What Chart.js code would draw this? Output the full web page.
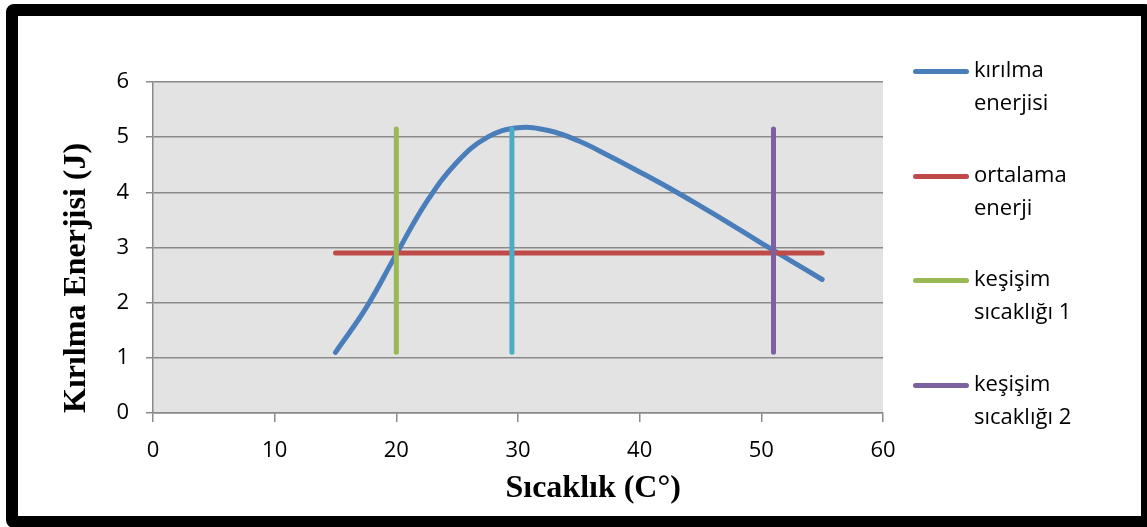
<!DOCTYPE html>
<html>
<head>
<meta charset="utf-8">
<script src="https://cdn.jsdelivr.net/npm/chart.js@4"></script>
<style>
  html, body { margin: 0; padding: 0; width: 1147px; height: 527px; overflow: hidden; background: #fff; }
  #frame {
    position: absolute; left: 6px; top: 4px; width: 1123px; height: 500px;
    border: 12px solid #000; border-radius: 8px; box-sizing: content-box;
  }
  #wrap { position: absolute; left: 0; top: 0; width: 1147px; height: 527px; }
  #legend {
    position: absolute; left: 913px; top: 52px; width: 200px;
    font-family: "Open Sans", sans-serif; font-size: 22px; line-height: 33px; color: #000;
  }
  .item { display: flex; align-items: flex-start; height: 104.5px; }
  .swatch { width: 56px; height: 5px; border-radius: 3px; margin-top: 17px; margin-right: 5px; flex: none; }
  .label { width: 130px; }
</style>
</head>
<body>
<div id="frame"></div>
<div id="wrap"><canvas id="chart" width="1147" height="527"></canvas></div>
<div id="legend"></div>
<script>
// values
const temps = [15, 17.5, 20, 22.5, 25, 27.5, 30, 32.5, 35, 37.5, 40, 42.5, 45, 47.5, 50, 52.5, 55];
const energy = [1.10, 1.90, 2.88, 3.83, 4.55, 5.00, 5.17, 5.12, 4.93, 4.66, 4.37, 4.07, 3.75, 3.42, 3.08, 2.75, 2.42];
const meanEnergy = 2.9;
const meanRange = [15, 55];
const crossTemps = [20, 29.5, 51];
const crossRange = [1.1, 5.15];
const seriesLabels = ['kırılma enerjisi', 'ortalama enerji', 'keşişim sıcaklığı 1', '', 'keşişim sıcaklığı 2'];
const seriesColors = ['#4A7EBB', '#BE4B48', '#98B954', '#4BACC6', '#7D60A0'];
const xTicks = [0, 10, 20, 30, 40, 50, 60];
const yTicks = [0, 1, 2, 3, 4, 5, 6];
const xTitle = 'Sıcaklık (C°)';
const yTitle = 'Kırılma Enerjisi (J)';

const tickFont = { family: '"Open Sans", sans-serif', size: 22 };
const titleFont = { family: '"Liberation Serif", serif', size: 32, weight: 'bold' };
const gridColor = '#8a8a8a';

function line(label, color, pts, order) {
    return {
        label: label,
        data: pts,
        showLine: true,
        borderColor: color,
        backgroundColor: color,
        borderWidth: 5,
        borderCapStyle: 'round',
        borderJoinStyle: 'round',
        pointRadius: 0,
        pointHoverRadius: 0,
        tension: 0.4,
        order: order
    };
}

const datasets = [
    line(seriesLabels[0], seriesColors[0], temps.map((t, i) => ({ x: t, y: energy[i] })), 5),
    line(seriesLabels[1], seriesColors[1], meanRange.map(t => ({ x: t, y: meanEnergy })), 4)
];
crossTemps.forEach((t, i) => {
    datasets.push(line(seriesLabels[i + 2], seriesColors[i + 2], crossRange.map(v => ({ x: t, y: v })), 3 - i));
});

// grey plot background
const plotBg = {
    id: 'plotBg',
    beforeDraw(chart) {
        const a = chart.chartArea, ctx = chart.ctx;
        ctx.save();
        ctx.fillStyle = '#E3E3E3';
        ctx.fillRect(a.left, a.top, a.right - a.left, a.bottom - a.top);
        ctx.restore();
    }
};

// x axis title sits off-centre in the original
const xTitlePlugin = {
    id: 'xTitle',
    afterDraw(chart) {
        const a = chart.chartArea, ctx = chart.ctx;
        ctx.save();
        ctx.font = 'bold 32px "Liberation Serif", serif';
        ctx.fillStyle = '#000';
        ctx.textAlign = 'center';
        ctx.textBaseline = 'alphabetic';
        ctx.fillText(xTitle, a.left + (a.right - a.left) * 0.603, a.bottom + 84);
        ctx.restore();
    }
};

const chart = new Chart(document.getElementById('chart'), {
    type: 'scatter',
    data: { datasets: datasets },
    options: {
        responsive: false,
        animation: false,
        events: [],
        layout: { padding: { left: 0, top: 82, right: 264, bottom: 0 } },
        plugins: { legend: { display: false }, tooltip: { enabled: false } },
        scales: {
            x: {
                type: 'linear', min: 0, max: 60,
                afterFit: s => { s.height = 114; },
                afterBuildTicks: s => { s.ticks = xTicks.map(v => ({ value: v })); },
                ticks: { font: tickFont, color: '#000', padding: 16 },
                grid: { drawOnChartArea: false, drawTicks: true, tickLength: 9, color: gridColor, lineWidth: 1.5 },
                border: { display: true, color: gridColor, width: 1.5 }
            },
            y: {
                min: 0, max: 6,
                afterFit: s => { s.width = 153; },
                afterBuildTicks: s => { s.ticks = yTicks.map(v => ({ value: v })); },
                ticks: { font: tickFont, color: '#000', padding: 17 },
                grid: { drawTicks: true, tickLength: 7, color: gridColor, lineWidth: 1.5 },
                border: { display: true, color: gridColor, width: 1.5 },
                title: { display: true, text: yTitle, font: titleFont, color: '#000', align: 'start', padding: { top: 58 } }
            }
        }
    },
    plugins: [plotBg, xTitlePlugin]
});

// legend with wrapped labels, skipping the unlabelled series
const legend = document.getElementById('legend');
chart.data.datasets.filter(d => d.label).forEach(d => {
    const item = document.createElement('div');
    item.className = 'item';
    item.innerHTML = '<div class="swatch" style="background:' + d.borderColor + '"></div><div class="label">' + d.label + '</div>';
    legend.appendChild(item);
});
</script>
</body>
</html>
